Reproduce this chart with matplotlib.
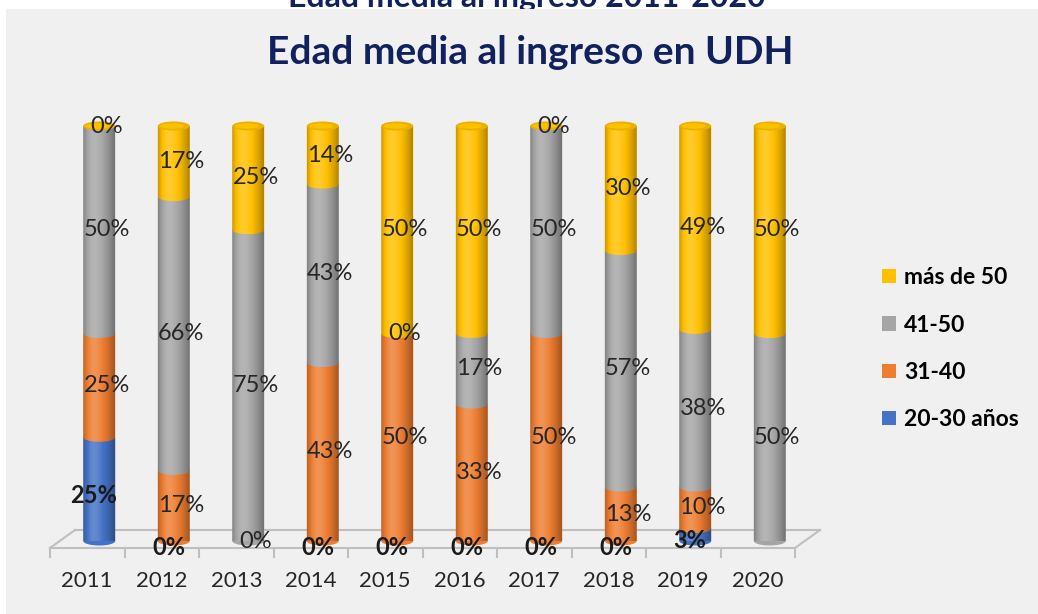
import numpy as np
import matplotlib
matplotlib.use("Agg")
import matplotlib.pyplot as plt
from matplotlib.patches import Rectangle, Ellipse, Patch, PathPatch
from matplotlib.path import Path
from matplotlib.colors import to_rgb

# ---------------- data ----------------
years = ["2011", "2012", "2013", "2014", "2015", "2016", "2017", "2018", "2019", "2020"]
series_names = ["20-30 años", "31-40", "41-50", "más de 50"]
# None = no value recorded (no data label shown)
s_20_30 = [25, 0, None, 0, 0, 0, 0, 0, 3, None]
s_31_40 = [25, 17, 0, 43, 50, 33, 50, 13, 10, None]
s_41_50 = [50, 66, 75, 43, 0, 17, 50, 57, 38, 50]
s_mas_50 = [0, 17, 25, 14, 50, 50, 0, 30, 49, 50]
series_values = [s_20_30, s_31_40, s_41_50, s_mas_50]
series_colors = ["#4472C4", "#ED7D31", "#A5A5A5", "#FFC000"]

W, H = 1038, 614
plt.rcParams["font.family"] = ["Lato", "DejaVu Sans"]

fig = plt.figure(figsize=(W / 100, H / 100), dpi=100)
fig.patch.set_facecolor("white")

# cut-off header text above the panel
fig.text(527 / W, 1 - 7 / H, "Edad media al ingreso 2011-2020", ha="center",
         va="baseline", fontsize=23, weight="bold", color="#10215E", zorder=-2)
panel = Rectangle((6 / W, 0), 1 - 6 / W, (H - 9) / H, transform=fig.transFigure,
                  facecolor="#F0F0F0", edgecolor="none", zorder=-1)
fig.patches.append(panel)

fig.text(530 / W, 1 - 52 / H, "Edad media al ingreso en UDH", ha="center",
         va="center", fontsize=28, weight="bold", color="#10215E")

ax = fig.add_axes([50 / W, (H - 541) / H, 745 / W, 415 / H])
ax.set_xlim(-0.5, 9.5)
ax.set_ylim(0, 100)
ax.axis("off")

px_y = 100 / 415.0   # data units per pixel (y)
px_x = 1 / 74.5      # data units per pixel (x)
depth_dx = 12 * px_x
bw = 32 * px_x
eh = 9 * px_y

# floor
yf = -7 * px_y
yb = 11 * px_y
dback = 25 * px_x
floor_c = "#BFBFBF"
ax.plot([-0.5, 9.5], [yf, yf], color=floor_c, lw=1.5, clip_on=False, zorder=1)
ax.plot([-0.5 + dback, 9.5 + dback], [yb, yb], color=floor_c, lw=1.5, clip_on=False, zorder=1)
ax.plot([-0.5, -0.5 + dback], [yf, yb], color=floor_c, lw=1.5, clip_on=False, zorder=1)
ax.plot([9.5, 9.5 + dback], [yf, yb], color=floor_c, lw=1.5, clip_on=False, zorder=1)
for b in np.arange(-0.5, 10.0, 1.0):
    ax.plot([b, b], [yf, yf - 9 * px_y], color=floor_c, lw=1.5, clip_on=False, zorder=1)

for i, y in enumerate(years):
    ax.text(i, -9.6, y, ha="center", va="center", fontsize=16, color="#262626")

# shading gradient for cylinders
t = np.linspace(0, 1, 64)
light = np.where(t < 0.35, 0.15 - 0.45 * ((0.35 - t) / 0.35) ** 2,
                 0.15 - 0.6 * ((t - 0.35) / 0.65) ** 1.6)
shade = np.zeros((1, len(t), 4))
for k, l in enumerate(light):
    if l >= 0:
        shade[0, k] = [1, 1, 1, l * 1.2]
    else:
        shade[0, k] = [0, 0, 0, -l * 0.7]


def seg_path(xc, y0, y1):
    x0, x1 = xc - bw / 2, xc + bw / 2
    th = np.linspace(np.pi, 2 * np.pi, 30)
    arc = np.column_stack([xc + bw / 2 * np.cos(th), y0 + eh / 2 * np.sin(th)])
    verts = np.vstack([[x0, y1], [x0, y0], arc, [x1, y0], [x1, y1], [x0, y1]])
    codes = [Path.MOVETO] + [Path.LINETO] * (len(verts) - 2) + [Path.CLOSEPOLY]
    return Path(verts, codes)


def val(v):
    return 0 if v is None else v


for i in range(len(years)):
    xc = i + depth_dx
    bottom = 0
    for s, vals in enumerate(series_values):
        v = val(vals[i])
        if v > 0:
            p = PathPatch(seg_path(xc, bottom, bottom + v), facecolor=series_colors[s],
                          edgecolor="none", zorder=2 + s * 0.1, clip_on=False)
            ax.add_patch(p)
            im = ax.imshow(shade, extent=(xc - bw / 2, xc + bw / 2, bottom - eh, bottom + v),
                           aspect="auto", zorder=2 + s * 0.1 + 0.05, interpolation="bilinear")
            im.set_clip_path(p)
        bottom += v
    # top cap
    top_c = np.array(to_rgb(series_colors[-1])) * 0.92
    cap = Ellipse((xc, bottom), bw, eh, facecolor=top_c, edgecolor="none", zorder=3,
                  clip_on=False)
    ax.add_patch(cap)
    inner = Ellipse((xc - bw * 0.05, bottom), bw * 0.75, eh * 0.6,
                    facecolor=series_colors[-1], edgecolor="none", zorder=3.01, clip_on=False)
    ax.add_patch(inner)

# data labels
for i in range(len(years)):
    xc = i + depth_dx
    bottom = 0
    for s, vals in enumerate(series_values):
        v = vals[i]
        if v is None:
            continue
        mid = bottom + v / 2
        if s == 0:
            ax.text(xc - 0.07, mid - 1.5, f"{v}%", ha="center", va="center", fontsize=17,
                    weight="bold", color="#1a1a1a", zorder=10, clip_on=False)
        else:
            ax.text(xc + 0.1, mid, f"{v}%", ha="center", va="center", fontsize=17,
                    color="#262626", zorder=10, clip_on=False)
        bottom += v

ax.set_xlim(-0.5, 9.5)
ax.set_ylim(0, 100)

handles = [Patch(facecolor=series_colors[s], edgecolor="none", label=series_names[s])
           for s in range(3, -1, -1)]
fig.legend(handles=handles, loc="upper left", bbox_to_anchor=(873 / W, 1 - 258 / H),
           frameon=False, prop={"size": 16.5, "weight": "bold"}, handlelength=0.6,
           handleheight=0.6, handletextpad=0.35, labelspacing=1.15, borderaxespad=0)

fig.savefig("out.png", dpi=100, facecolor=fig.get_facecolor())
